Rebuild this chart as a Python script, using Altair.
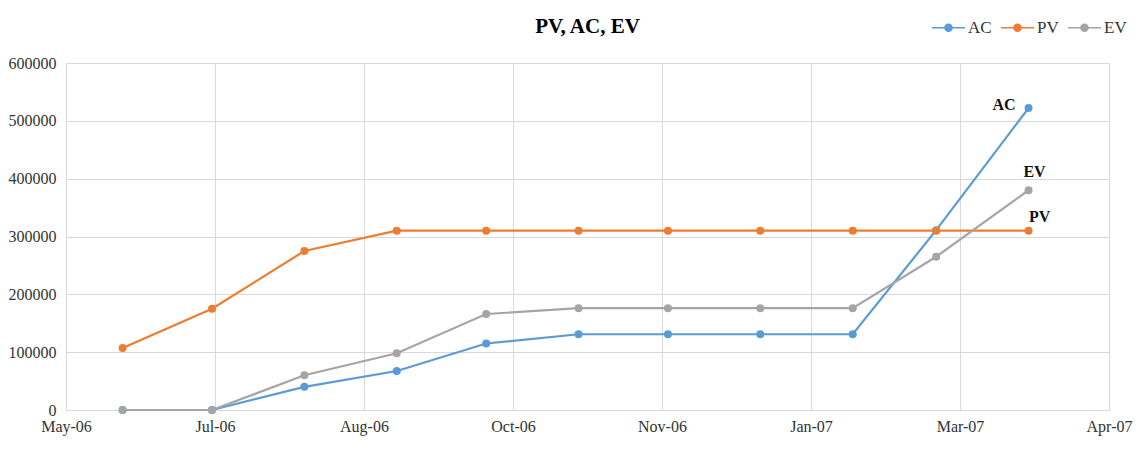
import altair as alt
import pandas as pd

# ---- data ----
dates = ["2006-06-01", "2006-07-01", "2006-08-01", "2006-09-01", "2006-10-01",
         "2006-11-01", "2006-12-01", "2007-01-01", "2007-02-01", "2007-03-01",
         "2007-04-01"]
ac = [0, 0, 40000, 67500, 115000, 131000, 131000, 131000, 131000, 311000, 522000]
pv = [107000, 175000, 275000, 310000, 310000, 310000, 310000, 310000, 310000, 310000, 310000]
ev = [0, 0, 60000, 98000, 166000, 176000, 176000, 176000, 176000, 265000, 380000]
series = ["AC", "PV", "EV"]
colors = ["#5B9BD5", "#ED7D31", "#A5A5A5"]
tick_dates = ["2006-05-13", "2006-07-02", "2006-08-21", "2006-10-10",
              "2006-11-29", "2007-01-18", "2007-03-09", "2007-04-28"]
y_ticks = [0, 100000, 200000, 300000, 400000, 500000, 600000]

FONT = "Liberation Serif"


def ms(d):
    return int(pd.Timestamp(d, tz="UTC").value // 10**6)


rows = []
for name, vals in zip(series, [ac, pv, ev]):
    for d, v in zip(dates, vals):
        rows.append({"date": d, "value": v, "series": name})
df = pd.DataFrame(rows)

labels_df = pd.DataFrame({
    "date": [dates[-1]] * 3,
    "value": [ac[-1], pv[-1], ev[-1]],
    "series": series,
})

tick_ms = [ms(d) for d in tick_dates]

x_enc = alt.X(
    "date:T",
    scale=alt.Scale(type="utc", domain=[tick_ms[0], tick_ms[-1]], nice=False),
    axis=alt.Axis(values=tick_ms, labelExpr="utcFormat(datum.value, '%b-%y')",
                  title=None, grid=True, gridColor="#D9D9D9", ticks=False,
                  domainColor="#D9D9D9", labelFont=FONT, labelFontSize=16,
                  labelColor="#333333", labelPadding=8, labelFlush=False),
)
y_enc = alt.Y(
    "value:Q",
    scale=alt.Scale(domain=[0, 600000], nice=False),
    axis=alt.Axis(values=y_ticks, format="d", title=None, grid=True,
                  gridColor="#D9D9D9", ticks=False, domain=False,
                  labelFont=FONT, labelFontSize=16, labelColor="#333333",
                  labelPadding=10),
)
color_scale = alt.Scale(domain=series, range=colors)

sym_path = ("M-1,-0.05L1,-0.05L1,0.05L-1,0.05Z "
            "M0.26,0A0.26,0.26,0,1,1,-0.26,0A0.26,0.26,0,1,1,0.26,0Z")

legend = alt.Legend(title=None, orient="none", direction="horizontal",
                    legendX=866, legendY=-52, symbolType=sym_path,
                    symbolSize=1089, symbolStrokeWidth=0,
                    labelFont=FONT, labelFontSize=17, labelColor="#333333",
                    labelOffset=3, columnPadding=9)

color_enc = alt.Color("series:N", scale=color_scale, legend=legend,
                      sort=series)

base = alt.Chart(df)

lines = base.mark_line(strokeWidth=2.2).encode(
    x=x_enc, y=y_enc, color=color_enc, detail="series:N",
)

points = base.mark_circle(size=64, opacity=1).encode(
    x=x_enc, y=y_enc, color=color_enc,
    order=alt.Order("series:N"),
)

lab = alt.Chart(labels_df)


def label(name, align, dx, dy):
    return lab.transform_filter(alt.datum.series == name).mark_text(
        font=FONT, fontSize=16, fontWeight="bold", color="#111111",
        align=align, baseline="middle", dx=dx, dy=dy,
    ).encode(x=x_enc, y=y_enc, text="series:N")


chart = alt.layer(
    lines, points,
    label("AC", "right", -13, -3),
    label("EV", "center", 6, -18),
    label("PV", "center", 11, -14),
).properties(
    width=1043, height=347,
    title=alt.TitleParams("PV, AC, EV", font=FONT, fontSize=21, fontWeight="bold",
                          color="#000000", anchor="middle", offset=-26),
    padding={"left": 0, "top": 3, "right": 5, "bottom": 5},
).configure_view(stroke="#D9D9D9", strokeWidth=1)

chart.save("out.html", embed_options={"renderer": "svg", "actions": False})
